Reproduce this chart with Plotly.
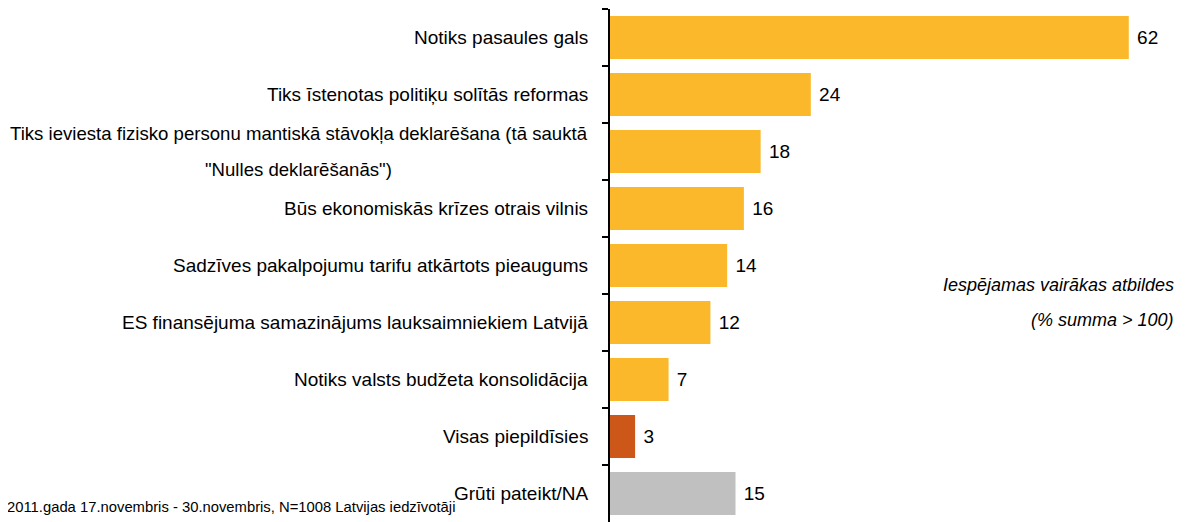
import plotly.graph_objects as go

categories = [
    "Notiks pasaules gals",
    "Tiks īstenotas politiķu solītās reformas",
    "Tiks ieviesta fizisko personu mantiskā stāvokļa deklarēšana (tā sauktā \"Nulles deklarēšanās\")",
    "Būs ekonomiskās krīzes otrais vilnis",
    "Sadzīves pakalpojumu tarifu atkārtots pieaugums",
    "ES finansējuma samazinājums lauksaimniekiem Latvijā",
    "Notiks valsts budžeta konsolidācija",
    "Visas piepildīsies",
    "Grūti pateikt/NA",
]
# wrapped display lines for the long label
long_label_lines = [
    "Tiks ieviesta fizisko personu mantiskā stāvokļa deklarēšana (tā sauktā",
    "\"Nulles deklarēšanās\")",
]
values = [62, 24, 18, 16, 14, 12, 7, 3, 15]
colors = ["#FAB82A"] * 7 + ["#CD5718", "#C0C0C0"]

note_lines = ["Iespējamas vairākas atbildes", "(% summa > 100)"]
footnote = "2011.gada 17.novembris - 30.novembris, N=1008 Latvijas iedzīvotāji"

FONT = "Liberation Sans Narrow, Arial Narrow, Liberation Sans, Arial, sans-serif"

fig = go.Figure(
    go.Bar(
        x=values,
        y=categories,
        orientation="h",
        marker=dict(color=colors, line=dict(width=0)),
        text=[str(v) for v in values],
        textposition="outside",
        texttemplate=" %{text}",
        textfont=dict(family=FONT, size=19, color="#000000"),
        constraintext="none",
        cliponaxis=False,
        hoverinfo="skip",
    )
)

annotations = []
for c in categories:
    if c == categories[2]:
        annotations.append(dict(
            x=0, xref="paper", y=c, yref="y",
            text=long_label_lines[0], showarrow=False,
            xanchor="right", yanchor="middle",
            xshift=-20, yshift=18,
            font=dict(family=FONT, size=18.6, color="#000000"),
        ))
        annotations.append(dict(
            x=0, xref="paper", y=c, yref="y",
            text=long_label_lines[1], showarrow=False,
            xanchor="center", yanchor="middle",
            xshift=-312, yshift=-18,
            font=dict(family=FONT, size=18.6, color="#000000"),
        ))
        continue
    annotations.append(
        dict(
            x=0, xref="paper", y=c, yref="y",
            text=c, showarrow=False,
            xanchor="right", yanchor="middle", align="center",
            xshift=-20,
            font=dict(family=FONT, size=19, color="#000000"),
        )
    )

annotations.append(dict(
    x=0.995, xref="paper", y=0.462, yref="paper", text=note_lines[0],
    showarrow=False, xanchor="right", yanchor="middle",
    font=dict(family=FONT, size=18, color="#000000", style="italic"),
))
annotations.append(dict(
    x=0.995, xref="paper", y=0.394, yref="paper", text=note_lines[1],
    showarrow=False, xanchor="right", yanchor="middle",
    font=dict(family=FONT, size=18, color="#000000", style="italic"),
))
annotations.append(dict(
    x=0, xref="paper", y=0.029, yref="paper", text=footnote,
    showarrow=False, xanchor="left", yanchor="middle", xshift=-605,
    font=dict(family=FONT, size=14.8, color="#000000"),
))

fig.update_layout(
    width=1178, height=514,
    margin=dict(l=602, r=7, t=1, b=0, pad=0),
    paper_bgcolor="white", plot_bgcolor="white",
    bargap=0.246,
    showlegend=False,
    annotations=annotations,
    xaxis=dict(range=[0, 68], visible=False, fixedrange=True),
    yaxis=dict(
        autorange="reversed",
        showticklabels=False,
        showline=True, linecolor="#000000", linewidth=2,
        ticks="outside", tickson="boundaries", ticklen=6,
        tickwidth=2, tickcolor="#000000",
        showgrid=False, zeroline=False, fixedrange=True,
    ),
)

fig.write_html("out.html")
